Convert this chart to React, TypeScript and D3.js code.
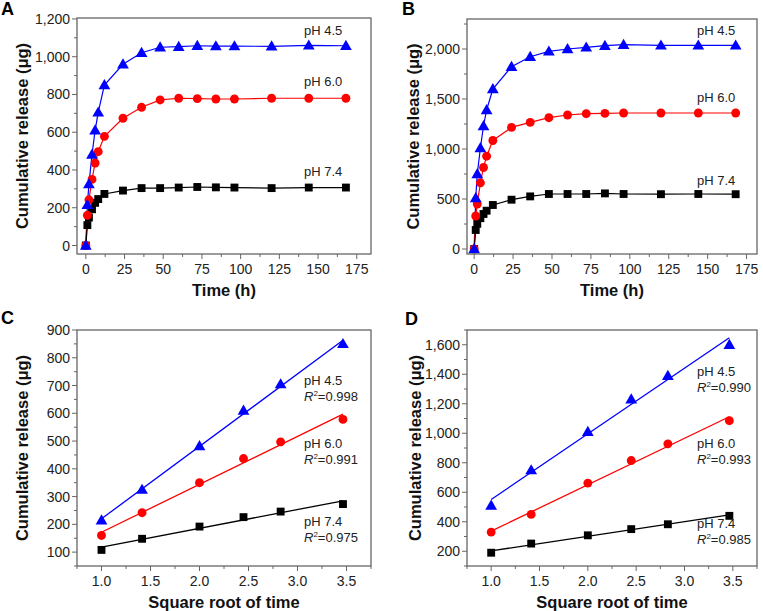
import React from "react";
import * as d3 from "d3";

const TIME = [0, 1, 2, 4, 6, 8, 12, 24, 36, 48, 60, 72, 84, 96, 120, 144, 168];
const A_PH45 = [0, 215, 325, 482, 610, 705, 850, 960, 1021, 1050, 1053, 1058, 1056, 1056, 1055, 1060, 1058];
const A_PH60 = [0, 160, 242, 350, 437, 497, 578, 674, 732, 771, 780, 778, 776, 776, 780, 780, 780];
const A_PH74 = [0, 108, 148, 192, 226, 246, 273, 291, 304, 304, 307, 310, 308, 307, 304, 307, 307];
const B_PH45 = [0, 510, 750, 1010, 1230, 1390, 1600, 1823, 1923, 1976, 2000, 2016, 2033, 2043, 2036, 2036, 2036];
const B_PH60 = [0, 330, 450, 662, 815, 928, 1085, 1216, 1266, 1313, 1340, 1353, 1356, 1360, 1360, 1360, 1360];
const B_PH74 = [0, 190, 252, 308, 350, 383, 440, 493, 526, 550, 550, 550, 556, 550, 548, 550, 548];

const SQRT_T = [1, 1.414, 2, 2.449, 2.828, 3.464];
const C_PH45 = [215, 325, 482, 610, 705, 850];
const C_PH60 = [160, 242, 350, 437, 497, 578];
const C_PH74 = [108, 148, 192, 226, 246, 273];
const D_PH45 = [510, 750, 1010, 1230, 1390, 1600];
const D_PH60 = [330, 450, 662, 815, 928, 1085];
const D_PH74 = [190, 252, 308, 350, 383, 440];

const PH_LABELS = ["pH 4.5", "pH 6.0", "pH 7.4"];
const C_R2 = ["0.998", "0.991", "0.975"];
const D_R2 = ["0.990", "0.993", "0.985"];

const A_YTICKS = [0, 200, 400, 600, 800, 1000, 1200];
const B_YTICKS = [0, 500, 1000, 1500, 2000];
const C_YTICKS = [100, 200, 300, 400, 500, 600, 700, 800, 900];
const D_YTICKS = [200, 400, 600, 800, 1000, 1200, 1400, 1600];
const TIME_TICKS = [0, 25, 50, 75, 100, 125, 150, 175];
const SQRT_TICKS = [1.0, 1.5, 2.0, 2.5, 3.0, 3.5];

const COLORS = ["#0000ff", "#ff0000", "#000000"];
const SHAPES = [d3.symbolTriangle, d3.symbolCircle, d3.symbolSquare];
const SIZES = [60, 62, 62];
const FONT = "'Liberation Sans', Arial, Helvetica, sans-serif";

function fitLine(xs: number[], ys: number[]) {
  const mx = d3.mean(xs) as number;
  const my = d3.mean(ys) as number;
  let sxy = 0, sxx = 0;
  xs.forEach((x, i) => {
    sxy += (x - mx) * (ys[i] - my);
    sxx += (x - mx) * (x - mx);
  });
  const b = sxy / sxx;
  const a = my - b * mx;
  return (x: number) => a + b * x;
}

type PanelProps = {
  left: number; right: number; top: number; bottom: number;
  xDomain: [number, number]; yDomain: [number, number];
  xTicks: number[]; xMinorStep: number; yTicks: number[]; yMinorStep: number;
  xFmt: (v: number) => string; yFmt: (v: number) => string;
  xs: number[]; series: number[][]; fit: boolean;
  labels: { text: string; r2?: string; x: number; y: number }[];
  letter: string; letterX: number; letterY: number;
  xTitle: string; xTitleY: number; yTitleX: number;
};

function Panel(p: PanelProps) {
  const x = d3.scaleLinear().domain(p.xDomain).range([p.left, p.right]);
  const y = d3.scaleLinear().domain(p.yDomain).range([p.bottom, p.top]);
  const xMinor = d3.range(Math.ceil(p.xDomain[0] / p.xMinorStep) * p.xMinorStep, p.xDomain[1] + 1e-9, p.xMinorStep)
    .filter((v) => !p.xTicks.some((t) => Math.abs(t - v) < 1e-9));
  const yMinor = d3.range(Math.ceil(p.yDomain[0] / p.yMinorStep) * p.yMinorStep, p.yDomain[1] + 1e-9, p.yMinorStep)
    .filter((v) => !p.yTicks.some((t) => Math.abs(t - v) < 1e-9));
  const line = d3.line<[number, number]>().x((d) => x(d[0])).y((d) => y(d[1]));
  const axisColor = "#666";
  return (
    <g fontFamily={FONT}>
      <text x={p.letterX} y={p.letterY} fontSize={18} fontWeight="bold" fill="#000">{p.letter}</text>
      {p.series.map((s, i) => {
        if (p.fit) {
          const f = fitLine(p.xs, s);
          const x0 = p.xs[0], x1 = p.xs[p.xs.length - 1];
          return <path key={"l" + i} d={line([[x0, f(x0)], [x1, f(x1)]]) as string} fill="none" stroke={COLORS[i]} strokeWidth={1.3} />;
        }
        return <path key={"l" + i} d={line(p.xs.map((v, j) => [v, s[j]] as [number, number])) as string} fill="none" stroke={COLORS[i]} strokeWidth={1.2} />;
      })}
      {[2, 1, 0].map((i) =>
        p.xs.map((v, j) => (
          <path key={"m" + i + "-" + j}
            d={d3.symbol().type(SHAPES[i]).size(SIZES[i])() as string}
            transform={`translate(${x(v)},${y(p.series[i][j]) + (i === 0 ? 0.8 : 0)})`}
            fill={COLORS[i]} />
        ))
      )}
      <rect x={p.left} y={p.top} width={p.right - p.left} height={p.bottom - p.top} fill="none" stroke={axisColor} strokeWidth={1.3} />
      {p.xTicks.map((t) => (
        <g key={"xt" + t}>
          <line x1={x(t)} x2={x(t)} y1={p.bottom} y2={p.bottom + 5} stroke={axisColor} strokeWidth={1} />
          <text x={x(t)} y={p.bottom + 20} fontSize={14} textAnchor="middle" fill="#222">{p.xFmt(t)}</text>
        </g>
      ))}
      {xMinor.map((t) => (
        <line key={"xm" + t} x1={x(t)} x2={x(t)} y1={p.bottom} y2={p.bottom + 3} stroke={axisColor} strokeWidth={1} />
      ))}
      {p.yTicks.map((t) => (
        <g key={"yt" + t}>
          <line x1={p.left - 5} x2={p.left} y1={y(t)} y2={y(t)} stroke={axisColor} strokeWidth={1} />
          <text x={p.left - 7} y={y(t) + 5} fontSize={14} textAnchor="end" fill="#222">{p.yFmt(t)}</text>
        </g>
      ))}
      {yMinor.map((t) => (
        <line key={"ym" + t} x1={p.left - 3} x2={p.left} y1={y(t)} y2={y(t)} stroke={axisColor} strokeWidth={1} />
      ))}
      <text x={(p.left + p.right) / 2} y={p.xTitleY} fontSize={16.5} fontWeight="bold" textAnchor="middle" fill="#111">{p.xTitle}</text>
      <text transform={`translate(${p.yTitleX},${(p.top + p.bottom) / 2}) rotate(-90)`} fontSize={16.5} fontWeight="bold" textAnchor="middle" fill="#111">Cumulative release (μg)</text>
      {p.labels.map((l, i) => (
        <g key={"lb" + i}>
          <text x={l.x} y={l.y} fontSize={13} fill="#222">{l.text}</text>
          {l.r2 && (
            <text x={l.x} y={l.y + 15.5} fontSize={13} fill="#222">
              <tspan fontStyle="italic">R</tspan>
              <tspan fontSize={8} dy={-5}>2</tspan>
              <tspan dy={5}>={l.r2}</tspan>
            </text>
          )}
        </g>
      ))}
    </g>
  );
}

export default function App() {
  const intFmt = d3.format(",");
  const decFmt = d3.format(".1f");
  return (
    <svg width={763} height={611} style={{ position: "absolute", left: 0, top: 0, background: "#fff" }}>
      <rect width={763} height={611} fill="#fff" />
      <Panel left={77} right={371} top={18} bottom={254}
        xDomain={[-5.7, 184.2]} yDomain={[-45, 1205]}
        xTicks={TIME_TICKS} xMinorStep={12.5} yTicks={A_YTICKS} yMinorStep={100}
        xFmt={(v) => String(v)} yFmt={intFmt}
        xs={TIME} series={[A_PH45, A_PH60, A_PH74]} fit={false}
        labels={[{ text: PH_LABELS[0], x: 304, y: 35 }, { text: PH_LABELS[1], x: 304, y: 86 }, { text: PH_LABELS[2], x: 304, y: 176 }]}
        letter="A" letterX={1} letterY={15} xTitle="Time (h)" xTitleY={296} yTitleX={28} />
      <Panel left={467} right={757} top={19} bottom={254}
        xDomain={[-4.6, 181.7]} yDomain={[-50, 2300]}
        xTicks={TIME_TICKS} xMinorStep={12.5} yTicks={B_YTICKS} yMinorStep={250}
        xFmt={(v) => String(v)} yFmt={intFmt}
        xs={TIME} series={[B_PH45, B_PH60, B_PH74]} fit={false}
        labels={[{ text: PH_LABELS[0], x: 697, y: 35 }, { text: PH_LABELS[1], x: 697, y: 102 }, { text: PH_LABELS[2], x: 697, y: 185 }]}
        letter="B" letterX={402} letterY={15} xTitle="Time (h)" xTitleY={296} yTitleX={419} />
      <Panel left={77} right={371} top={330} bottom={566}
        xDomain={[0.75, 3.75]} yDomain={[50, 900]}
        xTicks={SQRT_TICKS} xMinorStep={0.25} yTicks={C_YTICKS} yMinorStep={50}
        xFmt={decFmt} yFmt={intFmt}
        xs={SQRT_T} series={[C_PH45, C_PH60, C_PH74]} fit={true}
        labels={[{ text: PH_LABELS[0], r2: C_R2[0], x: 304, y: 385 }, { text: PH_LABELS[1], r2: C_R2[1], x: 304, y: 448 }, { text: PH_LABELS[2], r2: C_R2[2], x: 304, y: 526 }]}
        letter="C" letterX={1} letterY={324} xTitle="Square root of time" xTitleY={608} yTitleX={28} />
      <Panel left={467} right={757} top={330} bottom={566}
        xDomain={[0.75, 3.75]} yDomain={[100, 1700]}
        xTicks={SQRT_TICKS} xMinorStep={0.25} yTicks={D_YTICKS} yMinorStep={100}
        xFmt={decFmt} yFmt={intFmt}
        xs={SQRT_T} series={[D_PH45, D_PH60, D_PH74]} fit={true}
        labels={[{ text: PH_LABELS[0], r2: D_R2[0], x: 697, y: 376 }, { text: PH_LABELS[1], r2: D_R2[1], x: 697, y: 448 }, { text: PH_LABELS[2], r2: D_R2[2], x: 697, y: 528 }]}
        letter="D" letterX={405} letterY={325} xTitle="Square root of time" xTitleY={608} yTitleX={421} />
    </svg>
  );
}
